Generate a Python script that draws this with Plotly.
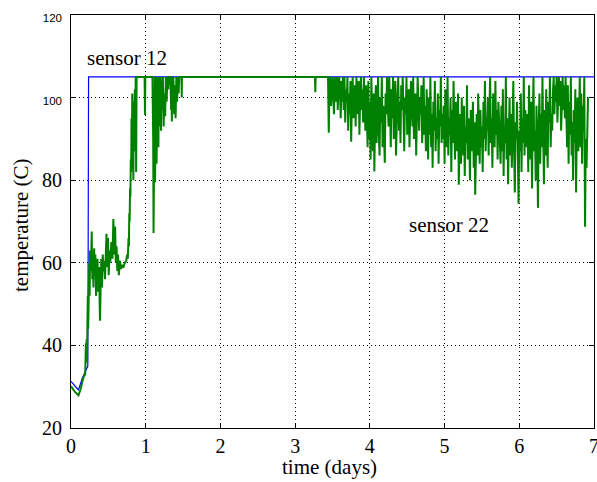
import plotly.graph_objects as go

# ---------------- data ----------------
# sensor 12 (blue)
s12_t = [0.0, 0.05, 0.1, 0.15, 0.21, 0.225, 0.23, 0.232, 0.235, 7.0]
s12_v = [31.3, 30.2, 29.2, 32.0, 34.2, 35.0, 64.0, 82.0, 105.0, 105.0]

# sensor 22 (green) - early part, explicit samples
s22_t_early = [0.0, 0.05, 0.1, 0.13, 0.165, 0.19, 0.2, 0.205, 0.21, 0.215, 0.22, 0.225, 0.23, 0.235,
               0.24, 0.245, 0.25, 0.255, 0.262, 0.27, 0.277, 0.285, 0.292, 0.3, 0.31, 0.318, 0.326,
               0.335, 0.345, 0.355, 0.365, 0.375, 0.388, 0.395, 0.405, 0.415, 0.425, 0.435, 0.445,
               0.455, 0.465, 0.475, 0.485, 0.495, 0.505, 0.515, 0.525, 0.54, 0.555, 0.567, 0.578,
               0.59, 0.6, 0.61, 0.62, 0.63, 0.64, 0.655, 0.67, 0.685, 0.7, 0.72, 0.74, 0.75, 0.76,
               0.77, 0.775, 0.78, 0.785, 0.79, 0.795, 0.8, 0.805, 0.81, 0.815, 0.82, 0.825, 0.83,
               0.835, 0.84, 0.845, 0.85, 0.855, 0.86, 0.866, 0.872, 0.878, 0.9, 0.985, 0.99, 0.995,
               1.09, 1.1, 1.105, 1.11, 1.115, 1.12, 1.125, 1.13, 1.135, 1.14, 1.145, 1.15, 1.155,
               1.16, 1.165, 1.17, 1.175, 1.18, 1.185, 1.19, 1.2, 1.205, 1.21, 1.22, 1.23, 1.24,
               1.25, 1.26, 1.27, 1.28, 1.29, 1.3, 1.31, 1.33, 1.34, 1.345, 1.35, 1.355, 1.36, 1.37,
               1.38, 1.39, 1.4, 1.41, 1.42, 1.43, 1.44, 1.45, 1.48, 1.482, 1.485, 3.265, 3.27,
               3.275, 3.44]
s22_v_early = [30.1, 28.8, 27.9, 29.5, 32.2, 33.0, 40.5, 36.5, 41.5, 35.8, 46, 52, 44, 55,
               47, 60, 52, 63, 58, 61, 67.6, 56, 62, 54, 63.5, 57, 62,
               52, 58, 61, 53, 59, 46, 57, 61, 54, 62, 58, 60.5,
               56, 64, 67, 59, 66, 57, 63, 60, 65, 61, 70.6, 62,
               68.8, 60, 64, 58, 62, 57, 60.5, 58.5, 59.5, 58.8, 60, 60.5, 62, 61,
               66, 64, 72, 70, 78, 76, 85, 82, 95, 88, 101, 84, 92,
               80, 99, 87, 97, 102, 92, 105, 82, 105, 105, 105, 95.8, 105,
               105, 90, 67.2, 100, 80, 105, 79.5, 98, 86, 105, 84, 103, 91,
               105, 95, 88, 105, 93, 100, 96, 105, 92, 104, 97, 105, 93,
               101, 95.5, 105, 99, 105, 102, 105, 105, 97, 105, 94.2, 104, 98, 105,
               96, 103, 95, 105, 99, 105, 101, 105, 105, 100, 105, 105, 101.3,
               105, 105]

# sensor 22 (green) - noisy part, sampled every 0.01 day from 3.45
s22_t0 = 3.45
s22_dt = 0.01
s22_v_noisy = [
    91.5, 103, 105, 98, 104, 105, 100, 96, 105, 102, 99, 105, 97, 103, 105, 101, 95, 104, 99, 105,
    97, 105, 94, 102, 99, 105, 92, 101, 96, 104, 89.3, 100, 105, 95, 98, 103, 93, 105, 100, 96,
    104, 91, 99, 105, 97, 102, 94, 105, 98, 92, 103,
    96, 88, 104, 90, 99, 85, 105, 93, 87, 101, 82.1, 95, 103, 89, 97, 105, 91, 86, 100, 94,
    105, 88, 98, 92, 84.2, 101, 96, 105,
    99, 93, 105, 97, 88, 102, 95, 105, 90, 98, 104, 86, 96, 101, 105, 92, 99, 89, 103, 97,
    105, 94, 87, 100, 96, 105, 91, 98, 102, 88, 95, 104, 99, 93, 105, 90, 97, 101, 86, 94,
    105, 98, 92, 100, 96, 103, 89, 95, 105, 91, 98, 87, 102,
    94, 85, 100, 91, 105, 88, 96, 83, 99, 92, 104, 87, 95, 90, 101, 84, 97, 93, 105, 89, 96,
    90, 98, 84, 102, 93, 88, 105, 86, 95, 91, 100, 82, 97, 89, 104, 92, 85, 99, 94, 87, 101, 78.9,
    88, 96, 84, 100, 91, 86, 98, 81, 93, 89, 103, 85, 95, 90, 80, 97, 87, 92, 99, 83,
    94, 76.5, 89, 96, 86, 101, 91, 84, 97, 88, 93, 82, 99, 90, 104, 87, 95,
    92, 100, 86, 97, 105, 89, 95, 83, 101, 93, 88, 104, 91, 97, 85, 99, 94,
    90, 84, 98, 87, 102, 81, 93, 89, 105, 85, 95, 79, 91, 100, 86, 96, 83, 92, 104, 88,
    77, 94, 90, 99, 84, 74.3, 92, 87, 101, 82, 95, 89, 105, 86, 97, 91,
    88, 96, 82, 103, 90, 85, 99, 78, 94, 105, 87, 92, 80, 98, 89, 73.3, 93, 101, 84, 96,
    88, 105, 91, 79, 97, 86, 102, 90, 83, 99, 94, 105, 88, 96, 92,
    101, 105, 96, 103, 99, 105, 94, 102, 105, 98, 104, 92, 100, 105, 97, 103, 95, 105,
    96, 88, 103, 84, 99, 91, 105, 86, 94, 80, 97, 89, 102, 77, 93, 100, 87,
    95, 105, 88, 101, 84, 98, 92, 105, 68.7, 90, 83, 96, 100,
]

x_ticks = [0, 1, 2, 3, 4, 5, 6, 7]
y_ticks = [20, 40, 60, 80, 100, 120]
y_ticklabels = ["20", "40", "60", "80",
                "<span style='font-family:Liberation Sans, Arial;font-size:11.5px'>100</span>",
                "<span style='font-family:Liberation Sans, Arial;font-size:11.5px'>120</span>"]

# ---------------- figure ----------------
s22_t_noisy = [round(s22_t0 + s22_dt * i, 4) for i in range(len(s22_v_noisy))]
s22_t = s22_t_early + s22_t_noisy
s22_v = s22_v_early + s22_v_noisy

serif = "Liberation Serif, Times New Roman, serif"

fig = go.Figure()
fig.add_trace(go.Scatter(x=s12_t, y=s12_v, mode="lines",
                         line=dict(color="#0000FF", width=1.2), hoverinfo="skip"))
fig.add_trace(go.Scatter(x=s22_t, y=s22_v, mode="lines",
                         line=dict(color="#008000", width=2), hoverinfo="skip"))

axis_common = dict(showline=True, linecolor="black", linewidth=1, mirror="ticks",
                   ticks="inside", ticklen=5, tickcolor="black",
                   showgrid=True, gridcolor="black", gridwidth=1, griddash="1px,3px",
                   zeroline=False, automargin=False)

fig.update_xaxes(range=[0, 7], tickvals=x_ticks, ticktext=[str(v) for v in x_ticks],
                 tickfont=dict(family=serif, size=20, color="black"),
                 ticklabeloverflow="allow", **axis_common)
fig.update_yaxes(range=[20, 120], tickvals=y_ticks, ticktext=y_ticklabels,
                 tickfont=dict(family=serif, size=20, color="black"),
                 ticklabelstandoff=4, ticklabeloverflow="allow", **axis_common)

fig.add_annotation(x=0.75, y=109.6, xref="x", yref="y", text="sensor 12", showarrow=False,
                   font=dict(family=serif, size=21, color="black"))
fig.add_annotation(x=5.06, y=69.2, xref="x", yref="y", text="sensor 22", showarrow=False,
                   font=dict(family=serif, size=21, color="black"))
fig.add_annotation(x=0.495, y=-0.094, xref="paper", yref="paper", text="time (days)",
                   showarrow=False, yanchor="middle",
                   font=dict(family=serif, size=21, color="black"))
fig.add_annotation(x=-0.0956, y=0.4915, xref="paper", yref="paper", text="temperature (C)",
                   showarrow=False, textangle=-90, xanchor="center", yanchor="middle",
                   font=dict(family=serif, size=21, color="black"))

fig.update_layout(width=597, height=482, margin=dict(l=71, r=3, t=15, b=54, autoexpand=False),
                  plot_bgcolor="white", paper_bgcolor="white", showlegend=False)

fig.write_html("out.html")
